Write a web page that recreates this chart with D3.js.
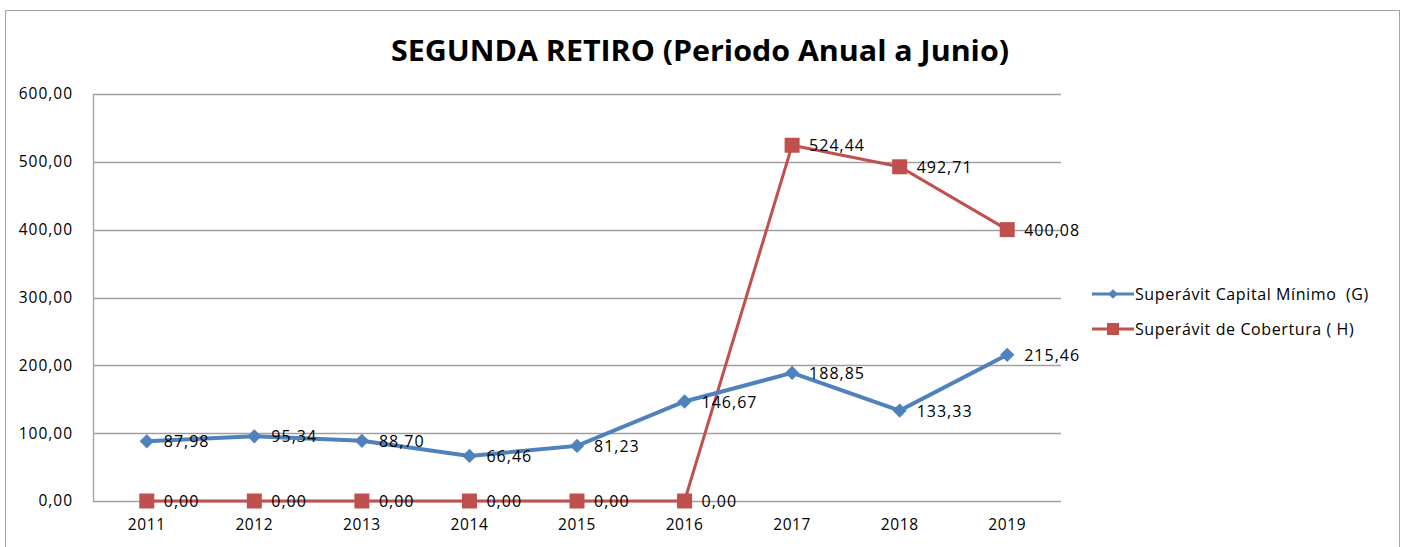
<!DOCTYPE html>
<html>
<head>
<meta charset="utf-8">
<script src="https://cdn.jsdelivr.net/npm/d3@7"></script>
<style>
  body { margin: 0; background: #fff; }
  text { font-family: "Open Sans", "Liberation Sans", sans-serif; fill: #000; }
</style>
</head>
<body>
<div id="chart"></div>
<script>
// chart data
var years = ["2011", "2012", "2013", "2014", "2015", "2016", "2017", "2018", "2019"];
var capitalMinimo = [87.98, 95.34, 88.70, 66.46, 81.23, 146.67, 188.85, 133.33, 215.46];
var cobertura = [0, 0, 0, 0, 0, 0, 524.44, 492.71, 400.08];
var seriesNames = ["Superávit Capital Mínimo  (G)", "Superávit de Cobertura ( H)"];
var yTicks = [0, 100, 200, 300, 400, 500, 600];

var W = 1405, H = 547;
var margin = {top: 94, right: 344, bottom: 46, left: 93},
    width = W - margin.left - margin.right,
    height = H - margin.top - margin.bottom;

var locale = d3.formatLocale({decimal: ",", thousands: ".", grouping: [3], currency: ["", ""]});
var fmt = locale.format(".2f");

var svg = d3.select("#chart").append("svg")
    .attr("width", W)
    .attr("height", H);

// outer border of the chart
svg.append("rect")
    .attr("x", 5.5).attr("y", 10.5)
    .attr("width", 1394).attr("height", 560)
    .attr("fill", "none")
    .attr("stroke", "#a6a6a6");

// title
svg.append("text")
    .attr("x", 700).attr("y", 61)
    .attr("text-anchor", "middle")
    .attr("font-size", 28)
    .attr("font-weight", "bold")
    .attr("textLength", 618)
    .attr("lengthAdjust", "spacingAndGlyphs")
    .text("SEGUNDA RETIRO (Periodo Anual a Junio)");

var g = svg.append("g")
    .attr("transform", "translate(" + margin.left + "," + margin.top + ")");

var x = d3.scaleBand().domain(years).range([0, width]);
var y = d3.scaleLinear().domain([0, 600]).range([height, 0]);

// gridlines
g.append("g")
    .selectAll("line")
    .data(yTicks)
  .enter().append("line")
    .attr("x1", 0).attr("x2", width)
    .attr("y1", function(d) { return Math.round(y(d)) + 0.5; })
    .attr("y2", function(d) { return Math.round(y(d)) + 0.5; })
    .attr("stroke", "#a0a0a0")
    .attr("stroke-width", 1.3);

// y axis
var yAxis = g.append("g")
    .call(d3.axisLeft(y).tickValues(yTicks).tickFormat(fmt).tickSize(0).tickPadding(20));
yAxis.select(".domain").attr("stroke", "#a0a0a0").attr("stroke-width", 1.3);
yAxis.selectAll("text")
    .attr("font-size", 15.5)
    .attr("letter-spacing", 1)
    .style("font-family", "'Open Sans', sans-serif");

// x axis
var xAxis = g.append("g")
    .attr("transform", "translate(0," + height + ")")
    .call(d3.axisBottom(x).tickSize(0).tickPadding(18));
xAxis.select(".domain").remove();
xAxis.selectAll("text")
    .attr("font-size", 15.5)
    .attr("letter-spacing", 0.6)
    .style("font-family", "'Open Sans', sans-serif");

var cx = function(d, i) { return x(years[i]) + x.bandwidth() / 2; };
var line = d3.line()
    .x(function(d, i) { return x(years[i]) + x.bandwidth() / 2; })
    .y(function(d) { return y(d); });

// red series (drawn first, blue on top)
g.append("path")
    .datum(cobertura)
    .attr("fill", "none")
    .attr("stroke", "#c0504d")
    .attr("stroke-width", 3)
    .attr("d", line);

g.append("path")
    .datum(capitalMinimo)
    .attr("fill", "none")
    .attr("stroke", "#4f81bd")
    .attr("stroke-width", 4)
    .attr("d", line);

// markers
g.selectAll(".sq")
    .data(cobertura)
  .enter().append("rect")
    .attr("class", "sq")
    .attr("x", function(d, i) { return cx(d, i) - 7.5; })
    .attr("y", function(d) { return y(d) - 7.5; })
    .attr("width", 15).attr("height", 15)
    .attr("fill", "#c0504d");

var diamond = d3.symbol().type(d3.symbolDiamond2).size(130);
g.selectAll(".dm")
    .data(capitalMinimo)
  .enter().append("path")
    .attr("class", "dm")
    .attr("transform", function(d, i) { return "translate(" + cx(d, i) + "," + y(d) + ")"; })
    .attr("d", diamond)
    .attr("fill", "#4f81bd");

// data labels
function addLabels(data) {
  g.append("g")
      .selectAll("text")
      .data(data)
    .enter().append("text")
      .attr("x", function(d, i) { return cx(d, i) + 17; })
      .attr("y", function(d) { return y(d); })
      .attr("dy", "0.38em")
      .attr("font-size", 16)
      .attr("letter-spacing", 1)
      .text(function(d) { return fmt(d); });
}
addLabels(cobertura);
addLabels(capitalMinimo);

// legend
var legend = svg.append("g").attr("transform", "translate(1092,0)");
var legendY = [294, 329];
var colors = ["#4f81bd", "#c0504d"];
seriesNames.forEach(function(name, i) {
  var lg = legend.append("g").attr("transform", "translate(0," + legendY[i] + ")");
  lg.append("line")
      .attr("x1", 0).attr("x2", 42)
      .attr("stroke", colors[i])
      .attr("stroke-width", 3);
  if (i === 0) {
    lg.append("path").attr("transform", "translate(21,0)")
      .attr("d", d3.symbol().type(d3.symbolDiamond2).size(60)).attr("fill", colors[i]);
  } else {
    lg.append("rect").attr("x", 15).attr("y", -6).attr("width", 12).attr("height", 12).attr("fill", colors[i]);
  }
  lg.append("text")
      .attr("x", 43).attr("dy", "0.36em")
      .attr("font-size", 16)
      .attr("letter-spacing", 0.6)
      .style("white-space", "pre")
      .text(name);
});
</script>
</body>
</html>
